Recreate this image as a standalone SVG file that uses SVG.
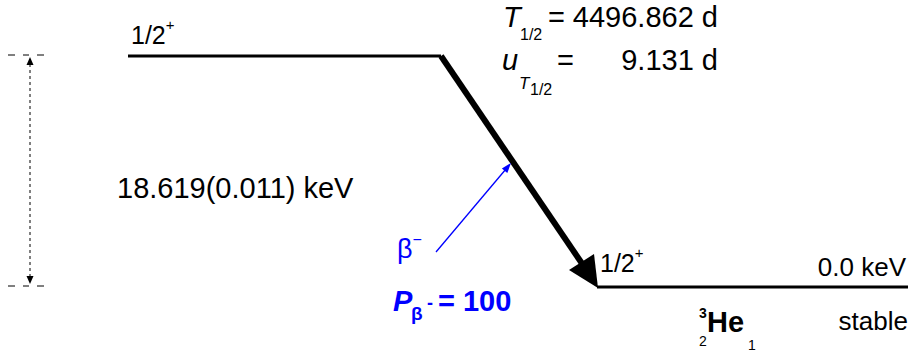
<svg xmlns="http://www.w3.org/2000/svg" width="919" height="356" viewBox="0 0 919 356">
<style>
text{font-family:"Liberation Sans",Arial,sans-serif;fill:#000}
.lvl{stroke:#000;stroke-width:3;fill:none}
.blue{fill:#0000ff}
.dim{stroke:#000;stroke-width:1;fill:none}
</style>
<rect width="919" height="356" fill="#fff"/>
<g id="level-parent">
<line class="lvl" x1="128" y1="56" x2="441" y2="56"/>
<text x="131" y="44" font-size="25">1/2<tspan font-size="15" dy="-14">+</tspan></text>
</g>
<g id="halflife">
<text x="503" y="27" font-size="29" font-style="italic">T</text>
<text x="520" y="40" font-size="16">1/2</text>
<text x="548" y="27" font-size="29">=</text>
<text x="718" y="27" font-size="29" text-anchor="end">4496.862 d</text>
<text x="502" y="70" font-size="29" font-style="italic">u</text>
<text x="519" y="89" font-size="17" font-style="italic">T</text>
<text x="530" y="95" font-size="16">1/2</text>
<text x="557" y="70" font-size="29">=</text>
<text x="718" y="70" font-size="29" text-anchor="end">9.131 d</text>
</g>
<g id="energy-dim">
<line class="dim" x1="8" y1="55" x2="15" y2="55"/>
<line class="dim" x1="23" y1="55" x2="29" y2="55"/>
<line class="dim" x1="37" y1="55" x2="44" y2="55"/>
<line class="dim" x1="8" y1="286" x2="15" y2="286"/>
<line class="dim" x1="23" y1="286" x2="29" y2="286"/>
<line class="dim" x1="37" y1="286" x2="44" y2="286"/>
<line class="dim" x1="30" y1="64" x2="30" y2="277" stroke-dasharray="3,3"/>
<polygon points="30,57 33.5,65 26.5,65" fill="#000"/>
<polygon points="30,284 33.5,276 26.5,276" fill="#000"/>
<text x="117" y="198" font-size="29">18.619(0.011) keV</text>
</g>
<g id="connectors">
<line x1="441" y1="56" x2="583" y2="265" stroke="#000" stroke-width="6"/>
<polygon points="598,288 569,270 594,254" fill="#000"/>
<line x1="436" y1="252" x2="506" y2="169" stroke="#0000ff" stroke-width="1.3"/>
<polygon points="511,163 507.3,172.9 501.9,168.4" fill="#0000ff"/>
</g>
<g id="beta-label">
<text class="blue" x="397" y="258" font-size="27">β<tspan font-size="16" dy="-13">−</tspan></text>
<text class="blue" x="393" y="311" font-size="29" font-weight="bold" font-style="italic">P</text>
<text class="blue" x="411" y="320" font-size="19" font-weight="bold">β</text>
<text class="blue" x="427" y="309" font-size="18" font-weight="bold">-</text>
<text class="blue" x="438" y="311" font-size="29" font-weight="bold">= 100</text>
</g>
<g id="level-daughter">
<line class="lvl" x1="597" y1="287" x2="908" y2="287"/>
<text x="600" y="272" font-size="25">1/2<tspan font-size="15" dy="-14">+</tspan></text>
<text x="906" y="276" font-size="26" text-anchor="end">0.0 keV</text>
</g>
<g id="nuclide">
<text x="699" y="318" font-size="14" font-weight="bold">3</text>
<text x="699" y="346" font-size="14">2</text>
<text x="707" y="332" font-size="29" font-weight="bold">He</text>
<text x="748" y="350" font-size="14">1</text>
<text x="908" y="330" font-size="26" text-anchor="end">stable</text>
</g>
</svg>
